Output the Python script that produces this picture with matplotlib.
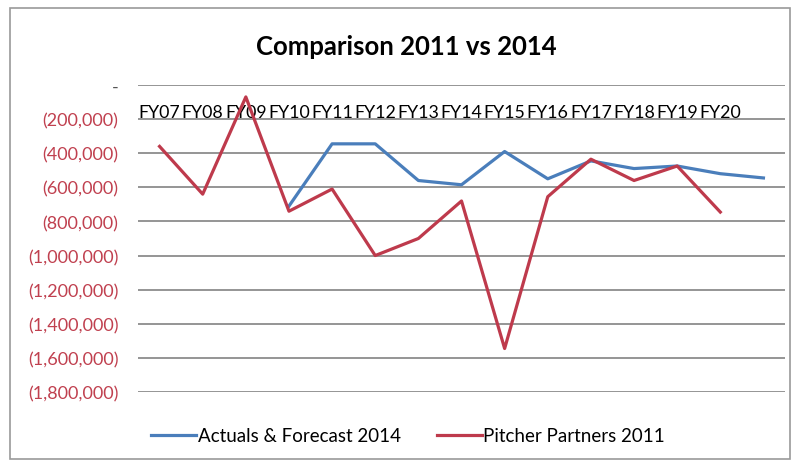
import numpy as np
import matplotlib.pyplot as plt
from matplotlib.patches import Rectangle
from matplotlib.ticker import FuncFormatter

plt.rcParams['font.family'] = ['Lato', 'DejaVu Sans']

# categories (last one has no label in the original)
categories = ['FY07', 'FY08', 'FY09', 'FY10', 'FY11', 'FY12', 'FY13',
              'FY14', 'FY15', 'FY16', 'FY17', 'FY18', 'FY19', 'FY20', '']
actuals_2014 = [np.nan, np.nan, np.nan, -710000, -345000, -345000, -560000,
                -585000, -390000, -550000, -445000, -490000, -475000,
                -520000, -545000]
pitcher_2011 = [-360000, -640000, -70000, -740000, -610000, -1000000, -900000,
                -680000, -1545000, -655000, -435000, -560000, -475000,
                -745000, np.nan]
y_ticks = np.arange(0, -1800001, -200000)

blue = '#4a7ebb'
red = '#be3a4c'

fig = plt.figure(figsize=(7.97, 4.64), dpi=100)
ax = fig.add_axes([138 / 797, 1 - 393 / 464, (785 - 138) / 797, (393 - 86) / 464])

# category axis sits on the zero line, like the Excel original
ax.spines['bottom'].set_position(('data', 0))
for s in ax.spines.values():
    s.set_visible(False)

x = np.arange(len(categories))
ax.plot(x, actuals_2014, color=blue, lw=2.3, label='Actuals & Forecast 2014')
ax.plot(x, pitcher_2011, color=red, lw=2.3, label='Pitcher Partners 2011')

ax.set_xlim(-0.5, len(categories) - 0.5)
ax.set_ylim(-1800000, 0)
ax.set_yticks(y_ticks)


def fmt(v, pos):
    if v == 0:
        return '-'
    return '({:,.0f})'.format(abs(v))


ax.yaxis.set_major_formatter(FuncFormatter(fmt))
ax.tick_params(axis='y', length=0, pad=14, labelsize=13, labelcolor='#c0404f')
ax.get_yticklabels()[0].set_color('#555555')

# horizontal gridlines
for v in y_ticks:
    ax.axhline(v, color='#8c8c8c', lw=1.3, zorder=0)

ax.set_xticks(x)
ax.set_xticklabels(categories)
ax.tick_params(axis='x', length=0, pad=13.5, labelsize=12.8)

fig.text(0.51, 1 - 47 / 464, 'Comparison 2011 vs 2014', ha='center', va='center',
         fontsize=18.5, fontweight='bold')

leg = fig.legend(loc='center', bbox_to_anchor=(0.512, 1 - 437 / 464), ncol=2,
                 frameon=False, fontsize=13.5, handlelength=2.4,
                 handletextpad=0.1, columnspacing=1.9)

fig.patches.append(Rectangle((10 / 797, 4 / 464), 780 / 797, 451 / 464,
                             transform=fig.transFigure, fill=False,
                             edgecolor='#9a9a9a', lw=1.2))

fig.savefig('out.png', dpi=100)
